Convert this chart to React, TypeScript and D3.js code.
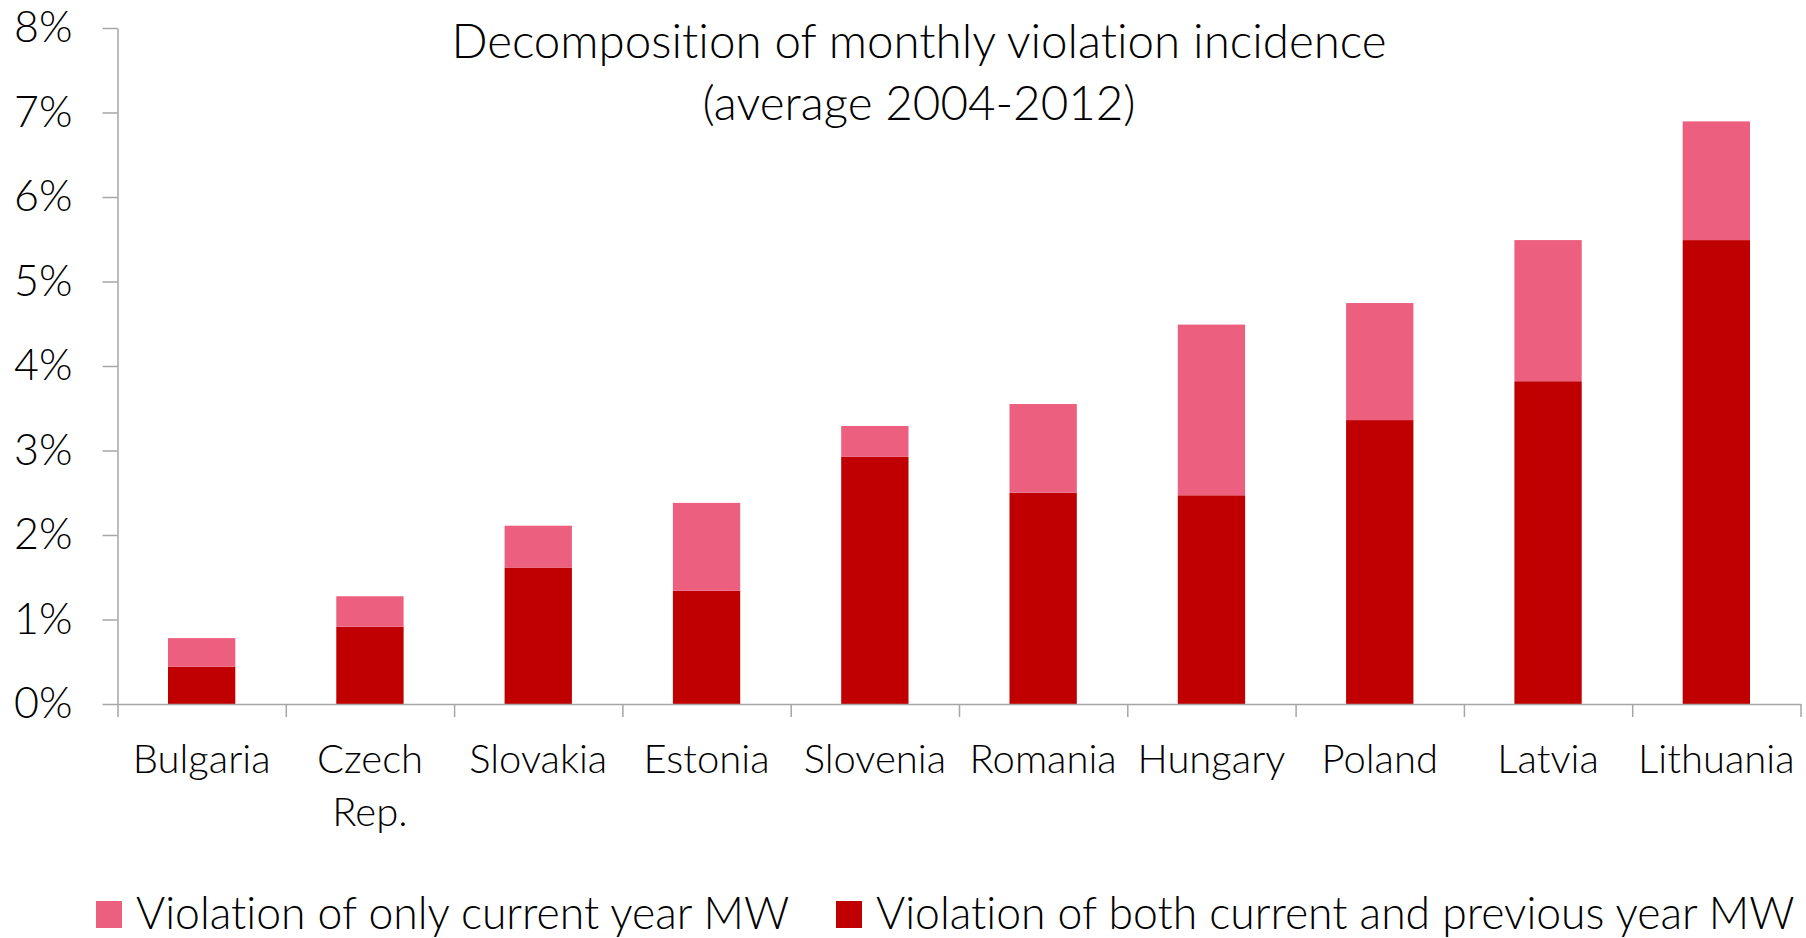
import React, { useEffect, useRef } from 'react';
import * as d3 from 'd3';

// Countries along the x axis (line breaks marked with \n)
const countries = ['Bulgaria', 'Czech\nRep.', 'Slovakia', 'Estonia', 'Slovenia', 'Romania', 'Hungary', 'Poland', 'Latvia', 'Lithuania'];

// Share of workers (in %) violating both current and previous year MW
const bothYearsShare = [0.44, 0.915, 1.615, 1.34, 2.925, 2.5, 2.47, 3.36, 3.82, 5.49];

// Extra share (in %) violating only the current year MW
const onlyCurrentShare = [0.34, 0.36, 0.495, 1.04, 0.365, 1.05, 2.02, 1.385, 1.67, 1.405];

const yTicks = [0, 1, 2, 3, 4, 5, 6, 7, 8];

const seriesNames = ['Violation of only current year MW', 'Violation of both current and previous year MW'];
const titleLines = ['Decomposition of monthly violation incidence', '(average 2004-2012)'];

const DARK = '#C00000';
const PINK = '#EC5F7E';
const AXIS = '#A6A6A6';
const FONT = 'Lato, "Open Sans", sans-serif';

const App = () => {
  const ref = useRef<SVGSVGElement>(null);

  useEffect(() => {
    document.body.style.margin = '0';
    document.body.style.overflow = 'hidden';

    const width = 1806;
    const height = 938;
    const left = 117.5;
    const right = 1800.5;
    const top = 28;
    const bottom = 704;

    const svg = d3.select(ref.current);
    svg.selectAll('*').remove();
    svg.attr('width', width).attr('height', height)
      .style('font-variant-ligatures', 'none');

    const rows = countries.map((c, i) => ({ country: c, both: bothYearsShare[i], only: onlyCurrentShare[i] }));

    // Scales
    const x = d3.scaleBand()
      .domain(countries)
      .range([left, right])
      .paddingInner(0.6)
      .paddingOuter(0.3);

    const y = d3.scaleLinear().domain([0, 8]).range([bottom, top]);

    // Stacked bars
    const stack = d3.stack<any>().keys(['both', 'only'])(rows);
    const colors = { both: DARK, only: PINK };

    svg.append('g')
      .selectAll('g')
      .data(stack)
      .enter()
      .append('g')
      .attr('fill', d => colors[d.key])
      .selectAll('rect')
      .data(d => d)
      .enter()
      .append('rect')
      .attr('x', d => x(d.data.country))
      .attr('width', x.bandwidth())
      .attr('y', d => y(d[1]))
      .attr('height', d => y(d[0]) - y(d[1]));

    // Y axis
    const yAxis = svg.append('g')
      .attr('transform', `translate(${left},0)`)
      .call(d3.axisLeft(y).tickValues(yTicks).tickSize(15).tickSizeOuter(0).tickPadding(30).tickFormat(d => `${d}%`));
    yAxis.selectAll('path, line').attr('stroke', AXIS).attr('stroke-width', 1.5);
    yAxis.selectAll('text')
      .style('font-family', FONT)
      .style('font-weight', 300)
      .style('font-size', '43px')
      .attr('fill', '#000');

    // X axis: ticks between categories
    const xEdges = d3.scaleLinear().domain([0, countries.length]).range([left, right]);
    const xAxis = svg.append('g')
      .attr('transform', `translate(0,${bottom})`)
      .call(d3.axisBottom(xEdges).tickValues(d3.range(countries.length + 1)).tickSize(13).tickSizeOuter(0).tickFormat(() => ''));
    xAxis.selectAll('path, line').attr('stroke', AXIS).attr('stroke-width', 1.5);

    // Category labels
    const labels = svg.append('g')
      .selectAll('text')
      .data(countries)
      .enter()
      .append('text')
      .attr('x', d => x(d) + x.bandwidth() / 2)
      .attr('y', 773)
      .attr('text-anchor', 'middle')
      .style('font-family', FONT)
      .style('font-weight', 300)
      .style('font-size', '40px');
    labels.selectAll('tspan')
      .data(d => d.split('\n').map(line => ({ line, cx: x(d) + x.bandwidth() / 2 })))
      .enter()
      .append('tspan')
      .attr('x', d => d.cx)
      .attr('dy', (d, i) => (i === 0 ? 0 : 53))
      .text(d => d.line);

    // Title
    svg.append('g')
      .selectAll('text')
      .data(titleLines)
      .enter()
      .append('text')
      .attr('x', 919)
      .attr('y', (d, i) => 58 + i * 62)
      .attr('text-anchor', 'middle')
      .style('font-family', FONT)
      .style('font-weight', 300)
      .style('font-size', '47.5px')
      .text(d => d);

    // Legend
    const legend = svg.append('g');
    const legendX = [96, 836];
    const legendColors = [PINK, DARK];
    seriesNames.forEach((name, i) => {
      legend.append('rect')
        .attr('x', legendX[i])
        .attr('y', 901)
        .attr('width', 26)
        .attr('height', 27)
        .attr('fill', legendColors[i]);
      legend.append('text')
        .attr('x', legendX[i] + 40)
        .attr('y', 929)
        .style('font-family', FONT)
        .style('font-weight', 300)
        .style('font-size', '44.5px')
        .text(name);
    });
  }, []);

  return <svg ref={ref} style={{ display: 'block' }}></svg>;
};

export default App;
